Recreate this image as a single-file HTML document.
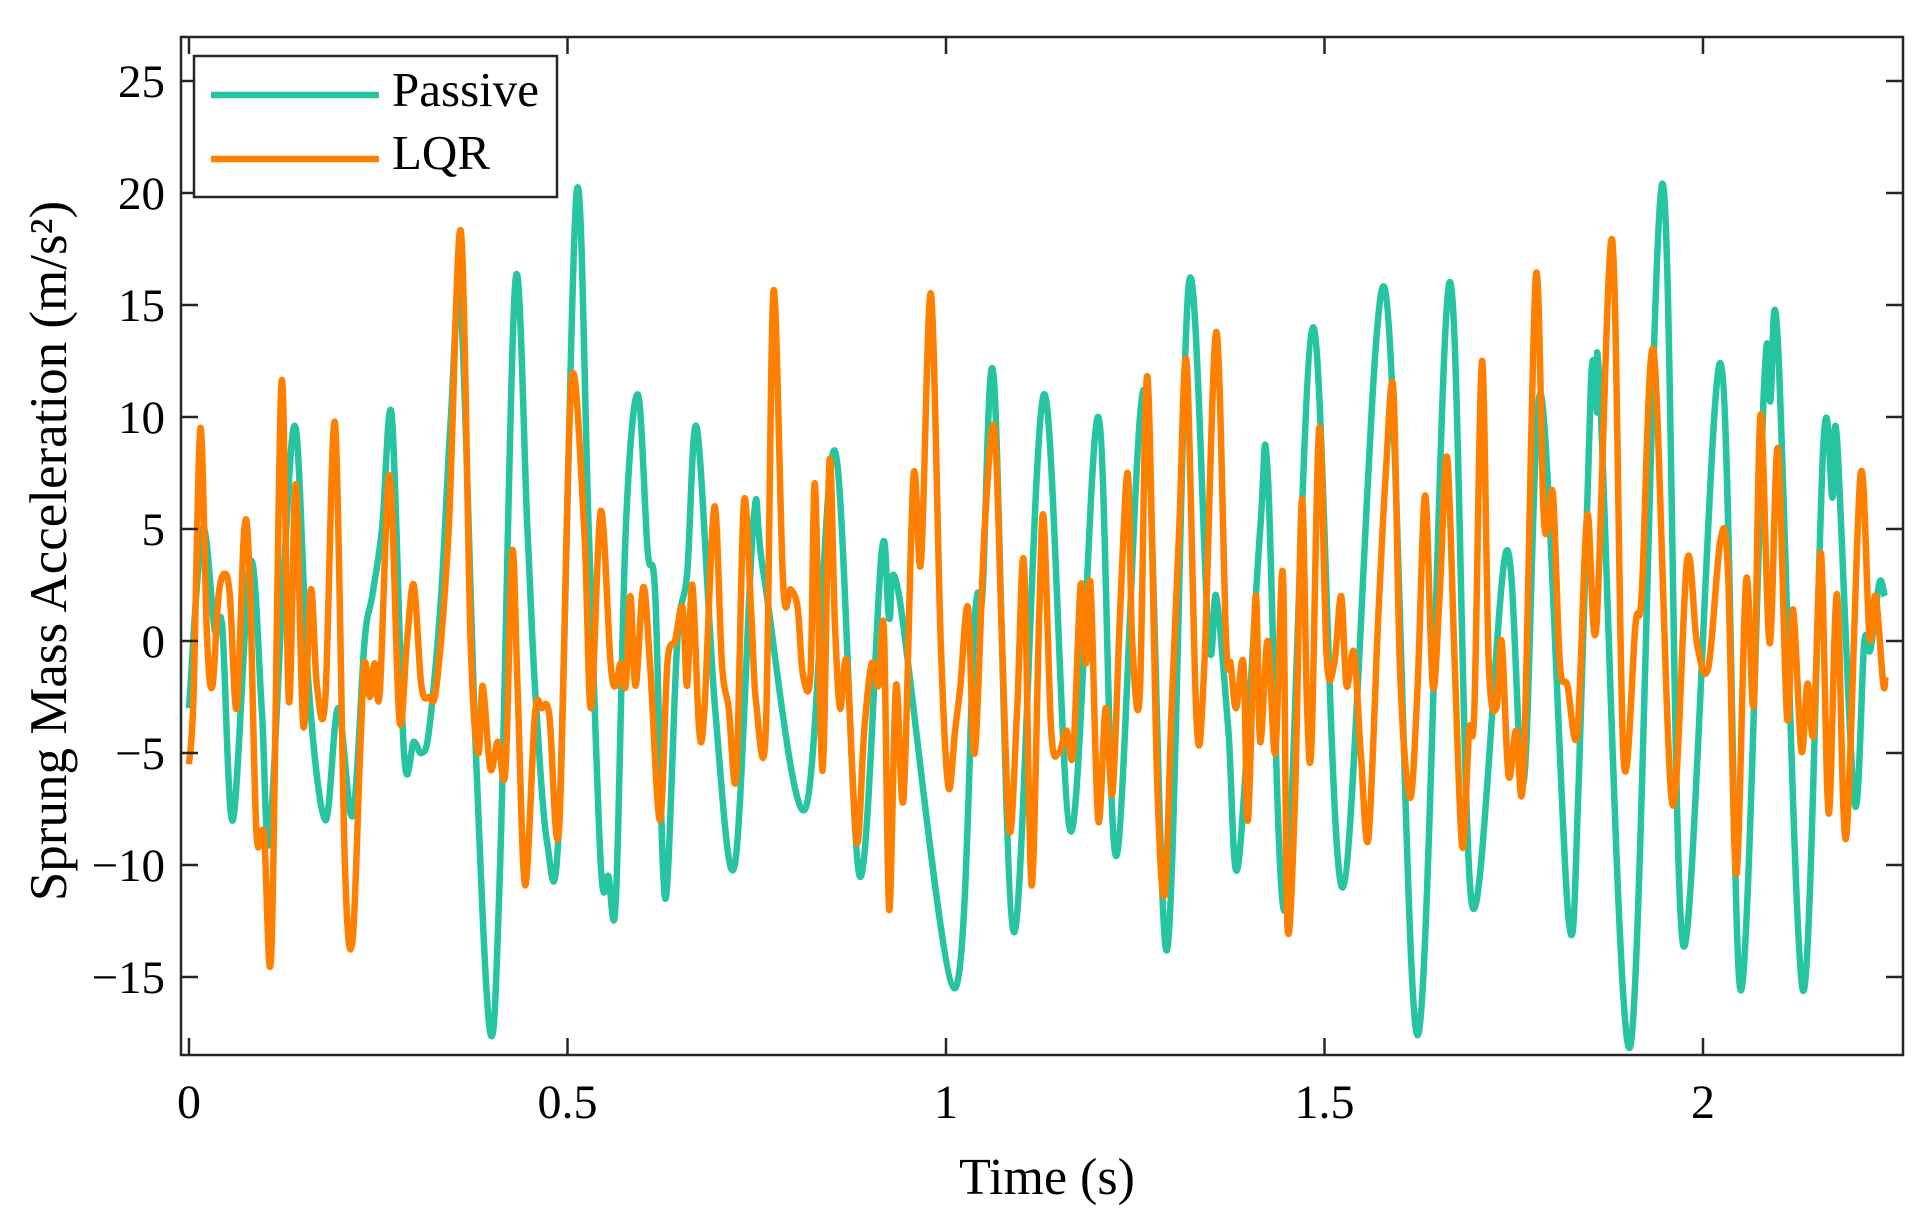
<!DOCTYPE html>
<html><head><meta charset="utf-8">
<style>
html,body{margin:0;padding:0;background:#fff;}
svg{display:block;font-family:"Liberation Serif",serif;}
</style></head>
<body>
<svg id="chart" width="1932" height="1214" viewBox="0 0 1932 1214" xmlns="http://www.w3.org/2000/svg">
  <rect width="1932" height="1214" fill="#fff"/>
  <g id="series"></g>
  <g id="axes"></g>
  <text x="1047" y="1194" font-size="52" text-anchor="middle" fill="#000">Time (s)</text>
  <text transform="translate(66,551) rotate(-90)" font-size="53" text-anchor="middle" fill="#000">Sprung Mass Acceleration (m/s²)</text>
  <g>
    <rect x="194" y="56" width="363" height="141" fill="#fff" stroke="#262626" stroke-width="2.5"/>
    <line x1="211" y1="95" x2="379" y2="95" stroke="#26C4A1" stroke-width="6.5"/>
    <text x="392" y="106" font-size="49" fill="#000">Passive</text>
    <line x1="211" y1="159" x2="379" y2="159" stroke="#FF8000" stroke-width="6.5"/>
    <text x="392" y="169" font-size="49" fill="#000">LQR</text>
  </g>
</svg>
<script>
const xTicks = [0, 0.5, 1, 1.5, 2];
const xTickLabels = ["0", "0.5", "1", "1.5", "2"];
const yTicks = [-15, -10, -5, 0, 5, 10, 15, 20, 25];
const yTickLabels = ["\u221215", "\u221210", "\u22125", "0", "5", "10", "15", "20", "25"];
const passiveT = [0,.018,.034,.044,.058,.081,.096,.106,.125,.141,.158,.180,.197,.216,.232,.242,.255,.268,.284,.297,.307,.317,.333,.346,.359,.379,.398,.411,.431,.447,.457,.473,.489,.512,.528,.544,.554,.564,.577,.593,.606,.616,.629,.645,.658,.671,.695,.721,.746,.759,.814,.853,.886,.915,.925,.938,1.011,1.038,1.048,1.063,1.090,1.129,1.165,1.201,1.225,1.262,1.292,1.321,1.347,1.357,1.373,1.386,1.415,1.425,1.448,1.485,1.524,1.579,1.623,1.665,1.695,1.740,1.763,1.786,1.822,1.836,1.852,1.860,1.864,1.904,1.946,1.974,2.023,2.050,2.081,2.089,2.099,2.132,2.159,2.171,2.177,2.200,2.213,2.221,2.233,2.240];
const passiveV = [-3,5,0.5,0.6,-8,3.5,-3,-9,3,9.5,-2,-8,-3,-7.8,0,2,5,10,-5,-4.5,-5,-4,2,10,15,-5,-17.5,-10,16,5,-2,-9,-8,20,5,-10,-10.5,-11.5,5,11,4,2,-11.5,0,3,9.5,-3,-10,5.5,3,-7.5,8.5,-10.5,4,1,2,-15.5,1,2,11.8,-13,11,-8.5,10,-9.6,11.2,-13.8,16,0,2,-4,-10,5,7.5,-12,14,-11,15.8,-17.6,16,-11.8,4,-6.3,11,-12.3,-6.1,11.6,10.2,11,-18.1,20.4,-13.6,12.4,-15.6,11.6,10.7,13.3,-15.6,8.8,6.4,9,-7.2,-0.1,-0.4,2.6,2];
const lqrT = [0,.006,.015,.024,.031,.039,.047,.054,.063,.073,.080,.089,.099,.109,.122,.132,.141,.151,.161,.169,.180,.193,.206,.216,.226,.232,.239,.245,.252,.265,.278,.288,.297,.307,.317,.327,.343,.359,.372,.382,.388,.398,.408,.418,.427,.434,.444,.457,.466,.476,.489,.505,.522,.531,.544,.557,.564,.570,.577,.583,.590,.600,.609,.622,.632,.642,.652,.658,.665,.674,.681,.694,.704,.713,.723,.733,.743,.749,.762,.772,.785,.795,.804,.811,.821,.827,.837,.846,.853,.860,.869,.882,.892,.902,.911,.918,.925,.934,.944,.957,.967,.980,.993,1.003,1.012,1.019,1.029,1.038,1.051,1.064,1.074,1.084,1.094,1.103,1.113,1.123,1.129,1.139,1.149,1.159,1.168,1.178,1.185,1.191,1.201,1.211,1.220,1.230,1.240,1.246,1.256,1.266,1.279,1.289,1.298,1.308,1.318,1.331,1.341,1.357,1.370,1.376,1.383,1.393,1.399,1.409,1.415,1.425,1.435,1.445,1.451,1.461,1.470,1.477,1.483,1.493,1.503,1.513,1.522,1.529,1.539,1.548,1.558,1.571,1.581,1.591,1.600,1.613,1.623,1.633,1.643,1.652,1.662,1.672,1.682,1.691,1.698,1.708,1.717,1.727,1.734,1.743,1.753,1.763,1.779,1.789,1.795,1.802,1.811,1.821,1.834,1.847,1.859,1.880,1.895,1.911,1.919,1.935,1.959,1.979,1.992,2.007,2.023,2.033,2.044,2.057,2.067,2.076,2.088,2.099,2.111,2.119,2.130,2.138,2.146,2.156,2.166,2.177,2.189,2.208,2.220,2.228,2.238,2.241];
const lqrV = [-5.5,-2.5,9.5,0,-2,2,3,2,-3,5,3,-8.5,-8.6,-13.7,11.5,-2.7,7,-3.8,2.3,-2,-2.6,9.7,-10,-13.4,-5,-1,-2.5,-1,-2.3,7.4,-3.5,0,2.5,-2,-2.5,-2,5,18.3,0,-5,-2,-5.7,-4.5,-5.8,4,-2,-10.9,-3.3,-3,-3.3,-8.3,11.5,5,-3,5.8,-1,-2,-1,-2,2,-2,2.4,-1,-8,-1,0,1.5,-2,2.5,-4,-3,6,-1,-3,-6,6.2,1,-2.7,-4,15.6,2.5,2.3,1.5,-1.5,-1.5,7,-5.8,8,1,-3,-1,-9,-4,-1,-2,0.5,-12,-2,-7,7.3,3.5,15.5,0,-6.5,-4,-2,1.5,-5,5,9.5,0,-8.5,-3,3.5,-10.9,1,5.5,-4,-5,-4,-5,2.5,-1,2.5,-8,-3,-6.8,1.3,7.5,0,-2.4,11.8,-6.3,-11.3,-3,5,12.4,-3.6,-1.3,13.8,0,-1,-3,-1,-8,2,-4.5,0,-5,3,-12.7,-7,6.3,-3,-4.5,9.5,-0.8,-1,2,-2,-0.5,-5,-8.8,1,7.5,11.2,-1.5,-7,-2,6.5,-2,2,8.2,-1,-9.2,-4,-3,12.5,-1,-3,0,-6,-4,-5.8,16.2,6,5,6.5,-1,-2,-4.1,5.6,0.6,17.9,-5.2,0.8,2.1,12.9,-7.2,3.6,-0.1,-1.2,4.5,3.1,-10.4,2.7,-2.8,10.1,-0.1,8.6,-3.4,1.4,-4.9,-1.9,-4.1,3.9,-7.7,2.1,-8.8,7.4,0.2,2,-1.9,-1.6];

const NS = "http://www.w3.org/2000/svg";
const L = 181, R = 1903, T = 37, B = 1055;
const X0 = 189, XS = 757;
const Y0 = 641, YS = 22.4;
function xs(t){ return X0 + t * XS; }
function ys(v){ return Y0 - v * YS; }

function smoothPath(ts, vs){
  const p = ts.map((t,i)=>[xs(t), ys(vs[i])]);
  let d = "M" + p[0][0].toFixed(1) + "," + p[0][1].toFixed(1);
  for (let i = 0; i < p.length - 1; i++){
    const p0 = p[Math.max(0,i-1)], p1 = p[i], p2 = p[i+1], p3 = p[Math.min(p.length-1,i+2)];
    const c1x = p1[0] + (p2[0]-p0[0])/6, c1y = p1[1] + (p2[1]-p0[1])/6;
    const c2x = p2[0] - (p3[0]-p1[0])/6, c2y = p2[1] - (p3[1]-p1[1])/6;
    d += " C" + c1x.toFixed(1) + "," + c1y.toFixed(1) + " " + c2x.toFixed(1) + "," + c2y.toFixed(1) + " " + p2[0].toFixed(1) + "," + p2[1].toFixed(1);
  }
  return d;
}

const series = document.getElementById("series");
const pp = document.createElementNS(NS, "path");
pp.setAttribute("d", smoothPath(passiveT, passiveV));
pp.setAttribute("fill", "none");
pp.setAttribute("stroke", "#26C4A1");
pp.setAttribute("stroke-width", "6.5");
pp.setAttribute("stroke-linejoin", "round");


series.appendChild(pp);
const lp = document.createElementNS(NS, "path");
lp.setAttribute("d", smoothPath(lqrT, lqrV));
lp.setAttribute("fill", "none");
lp.setAttribute("stroke", "#FF8000");
lp.setAttribute("stroke-width", "6.5");
lp.setAttribute("stroke-linejoin", "round");


series.appendChild(lp);

const axes = document.getElementById("axes");
const frame = document.createElementNS(NS, "rect");
frame.setAttribute("x", L); frame.setAttribute("y", T);
frame.setAttribute("width", R-L); frame.setAttribute("height", B-T);
frame.setAttribute("fill", "none"); frame.setAttribute("stroke", "#262626"); frame.setAttribute("stroke-width", "2.5");


axes.appendChild(frame);

xTicks.forEach((t,i)=>{
  const x = xs(t);
  const tk = document.createElementNS(NS, "path");
  tk.setAttribute("d", `M${x},${B} V${B-17} M${x},${T} V${T+17}`);
  tk.setAttribute("stroke", "#262626"); tk.setAttribute("stroke-width", "2.5");
  
  
  axes.appendChild(tk);
  const lb = document.createElementNS(NS, "text");
  lb.setAttribute("x", x); lb.setAttribute("y", 1118);
  lb.setAttribute("font-size", "48"); lb.setAttribute("text-anchor", "middle");
  lb.textContent = xTickLabels[i];
  
  
  axes.appendChild(lb);
});
yTicks.forEach((v,i)=>{
  const y = ys(v);
  const tk = document.createElementNS(NS, "path");
  tk.setAttribute("d", `M${L},${y} H${L+17} M${R},${y} H${R-17}`);
  tk.setAttribute("stroke", "#262626"); tk.setAttribute("stroke-width", "2.5");
  
  
  axes.appendChild(tk);
  const lb = document.createElementNS(NS, "text");
  lb.setAttribute("x", 165); lb.setAttribute("y", y + 16);
  lb.setAttribute("font-size", "47"); lb.setAttribute("text-anchor", "end");
  lb.textContent = yTickLabels[i];
  
  
  axes.appendChild(lb);
});
</script>
</body></html>
